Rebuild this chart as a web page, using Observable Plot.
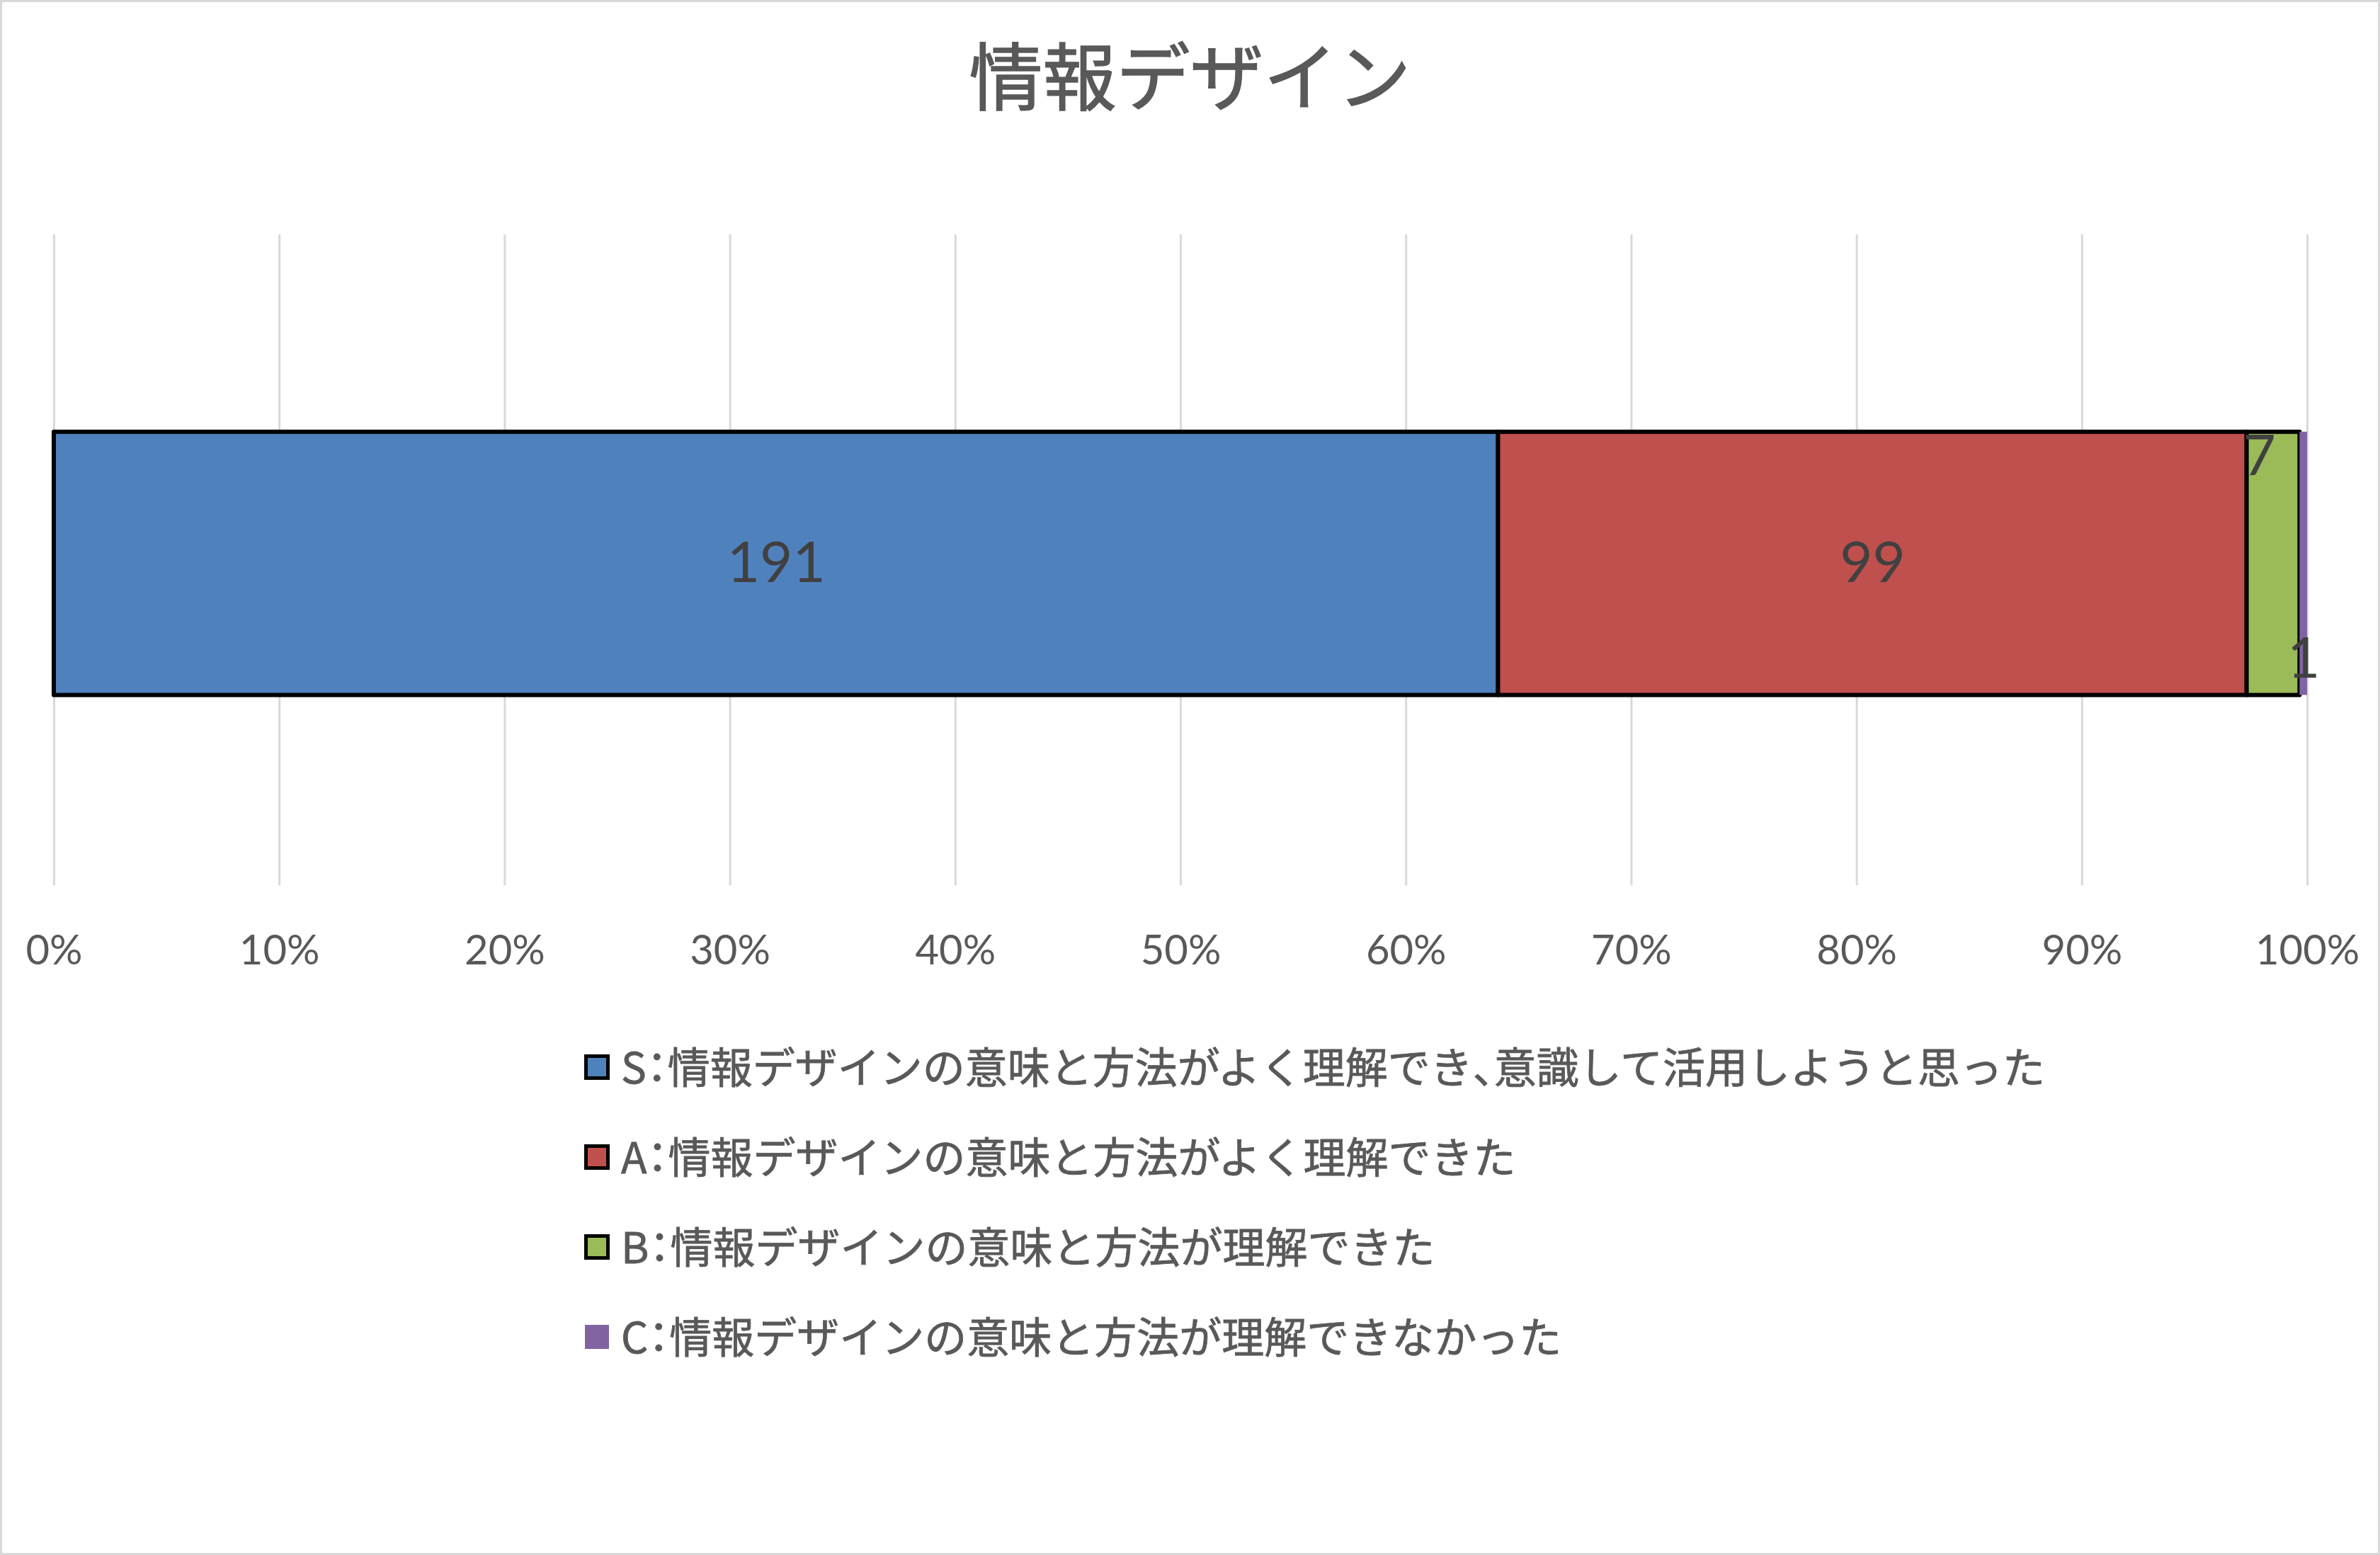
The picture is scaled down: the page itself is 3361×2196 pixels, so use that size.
<!DOCTYPE html>
<html>
<head>
<meta charset="utf-8">
<script src="https://cdn.jsdelivr.net/npm/d3@7"></script>
<script src="https://cdn.jsdelivr.net/npm/@observablehq/plot@0.6"></script>
<style>
  html, body { margin: 0; padding: 0; background: #fff; }
  #chart { position: relative; width: 3361px; height: 2196px; box-sizing: border-box; border: 3px solid #D9D9D9; background: #fff; overflow: hidden; }
  #title { position: absolute; left: 0; width: 100%; top: 46px; height: 108px; line-height: 108px; text-align: center;
           font-family: "Noto Sans CJK JP", sans-serif; font-size: 104px; color: #595959; -webkit-text-stroke: 1.5px #595959; }
  #plot { position: absolute; left: -3px; top: 297px; }
  #legend { position: absolute; left: 822px; top: 1440px; font-family: "Noto Sans CJK JP", sans-serif; font-size: 60px; color: #595959; }
  .row { display: flex; align-items: center; height: 127px; }
  .sw { width: 36px; height: 36px; box-sizing: border-box; border: 5px solid #000; margin-right: 16px; flex: none; }
  .sw.nob { border: none; width: 34px; height: 34px; margin-left: 1px; margin-right: 17px; }
  .lt { line-height: 60px; white-space: nowrap; position: relative; top: -3px; -webkit-text-stroke: 0.8px #595959; }
  .half { font-feature-settings: "halt" 1; }
</style>
</head>
<body>
<div id="chart">
  <div id="title"></div>
  <div id="plot"></div>
  <div id="legend"></div>
</div>
<script>
const title = "情報デザイン";
const categories = ["情報デザイン"];
const series = ["S", "A", "B", "C"];
const values = [191, 99, 7, 1];
const legendLabels = [
  "S：情報デザインの意味と方法がよく理解でき、意識して活用しようと思った",
  "A：情報デザインの意味と方法がよく理解できた",
  "B：情報デザインの意味と方法が理解できた",
  "C：情報デザインの意味と方法が理解できなかった"
];
const colors = ["#4F81BD", "#C0504D", "#9BBB59", "#8064A2"];
const xTicks = [0, 0.1, 0.2, 0.3, 0.4, 0.5, 0.6, 0.7, 0.8, 0.9, 1];

const data = series.map((s, i) => ({category: categories[0], series: s, value: values[i]}));
const pct = d => Math.round(d * 100) + "%";

document.getElementById("title").textContent = title;

const chart = Plot.plot({
  width: 3361,
  height: 1100,
  marginLeft: 76,
  marginRight: 100,
  marginTop: 31,
  marginBottom: 149,
  style: {background: "transparent", color: "#595959", fontFamily: "Lato, 'Open Sans', sans-serif", overflow: "visible"},
  x: {domain: [0, 1], label: null},
  y: {domain: categories, paddingInner: 0, paddingOuter: 0.7333, align: 0.51, axis: null},
  color: {domain: series, range: colors},
  marks: [
    Plot.gridX(xTicks, {stroke: "#D9D9D9", strokeOpacity: 1, strokeWidth: 3}),
    Plot.barX(data, Plot.stackX({
      x: "value", y: "category", fill: "series", offset: "normalize",
      stroke: "#000", strokeWidth: d => d.series === "C" ? 0 : 6, strokeLinejoin: "round"
    })),
    Plot.text(data, Plot.stackX({
      x: "value", y: "category", offset: "normalize",
      text: d => (d.series === "S" || d.series === "A") ? String(d.value) : "",
      fill: "#404040", fontSize: 80
    })),
    Plot.text(data, Plot.stackX({
      x: "value", y: "category", offset: "normalize",
      text: d => d.series === "B" ? String(d.value) : "",
      fill: "#404040", fontSize: 80, dx: -20, dy: -151
    })),
    Plot.text(data, Plot.stackX({
      x: "value", y: "category", offset: "normalize",
      text: d => d.series === "C" ? String(d.value) : "",
      fill: "#404040", fontSize: 80, dx: 0, dy: 135
    })),
    Plot.axisX(xTicks, {tickSize: 0, tickPadding: 70, tickFormat: pct, fontSize: 58, fill: "#595959", label: null})
  ]
});
document.getElementById("plot").appendChild(chart);

const legend = document.getElementById("legend");
series.forEach((s, i) => {
  const row = document.createElement("div");
  row.className = "row";
  const sw = document.createElement("div");
  sw.className = "sw" + (s === "C" ? " nob" : "");
  sw.style.background = colors[i];
  const lt = document.createElement("div");
  lt.className = "lt";
  // punctuation rendered at half width, as in the reference
  for (const part of legendLabels[i].split(/([：、])/)) {
    if (!part) continue;
    if (part === "：" || part === "、") {
      const sp = document.createElement("span");
      sp.className = "half";
      sp.textContent = part;
      lt.appendChild(sp);
    } else {
      lt.appendChild(document.createTextNode(part));
    }
  }
  row.appendChild(sw);
  row.appendChild(lt);
  legend.appendChild(row);
});
</script>
</body>
</html>
